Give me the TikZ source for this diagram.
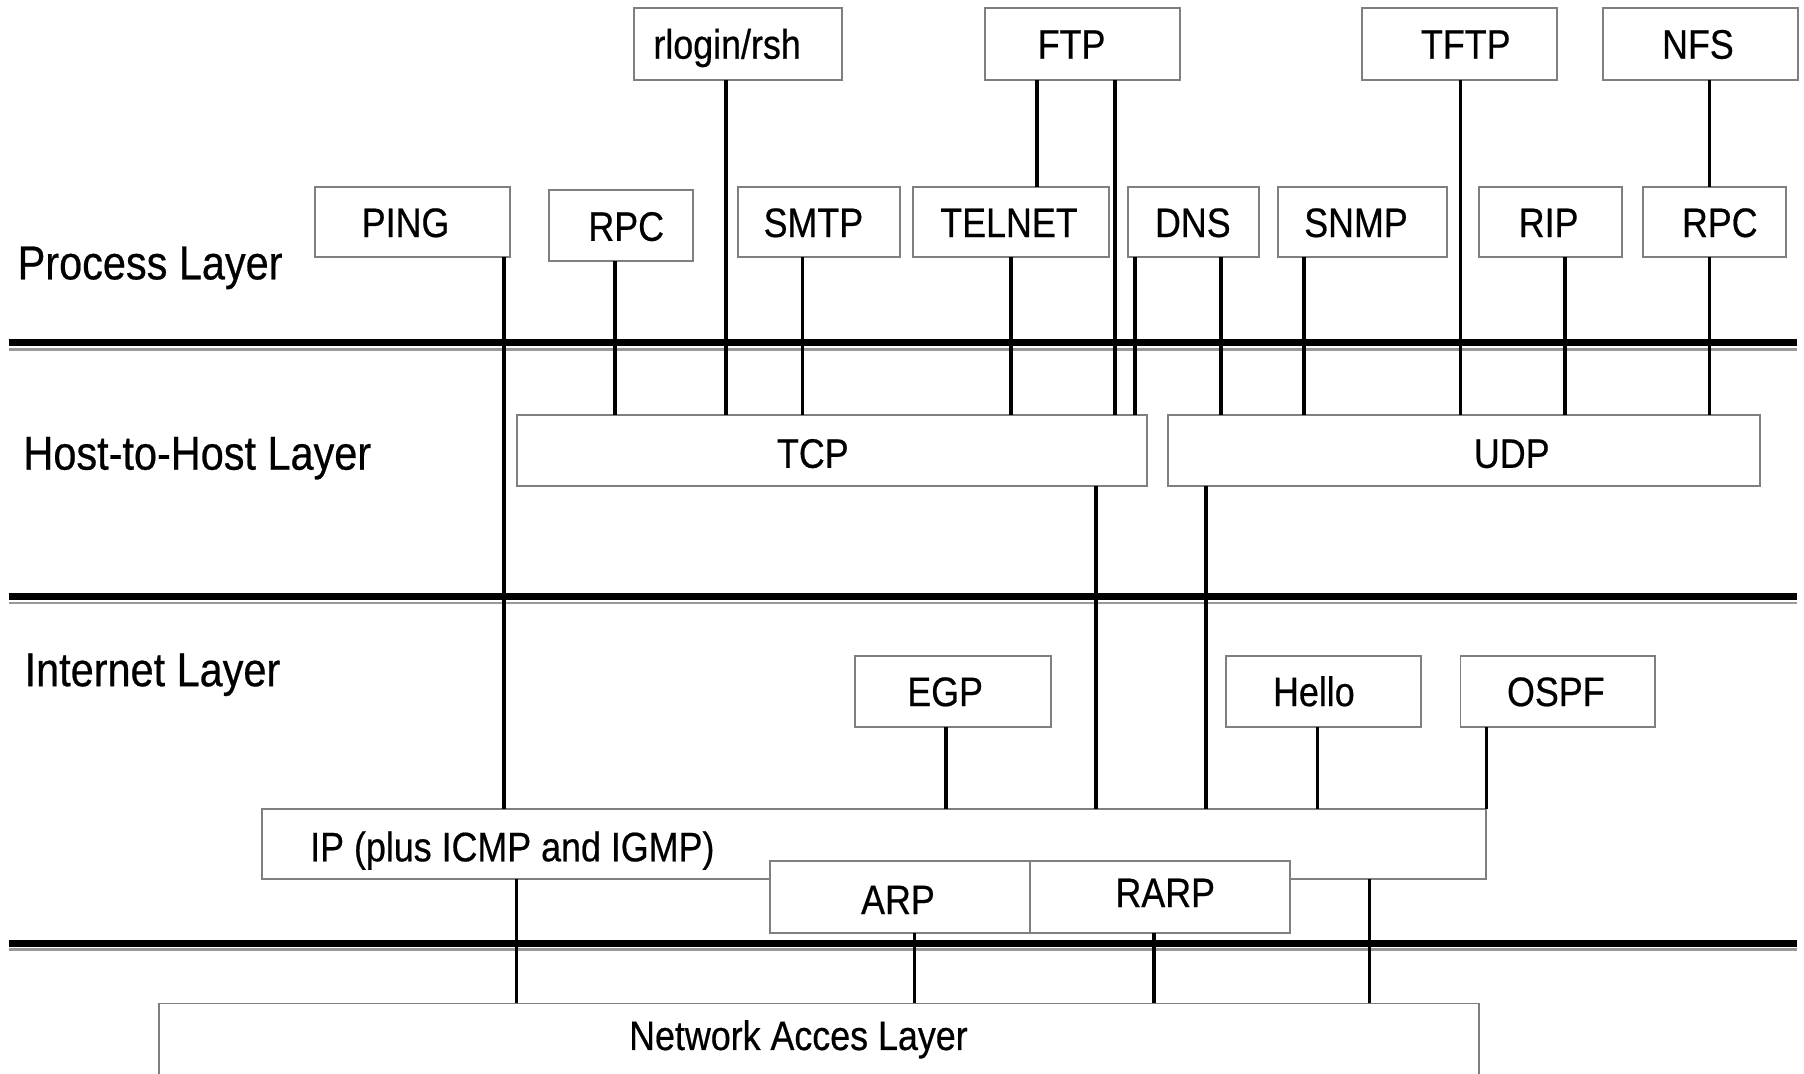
\documentclass[tikz,border=0pt]{standalone}
\usepackage{fontspec}
\setmainfont[FakeStretch=0.87,FakeBold=0.5]{Liberation Sans}
\usetikzlibrary{fit}
\definecolor{boxgray}{HTML}{7F7F7F}
\definecolor{sepgray}{HTML}{999999}
\begin{document}
\begin{tikzpicture}[x=0.5pt,y=-0.5pt,
  box/.style={draw=boxgray,line width=0.85pt,fill=white,inner sep=0pt,outer sep=0pt},
  lbl/.style={anchor=base,inner sep=0pt,font=\fontsize{17.9}{20}\selectfont},
  layer/.style={anchor=base west,inner sep=0pt,font=\fontsize{20.7}{24}\selectfont},
  conn/.style={line width=1.6pt,black},
  sepb/.style={line width=3pt,black},
  sepg/.style={line width=1.2pt,sepgray}]
\fill[white] (0,0) rectangle (1568,933);
\useasboundingbox (0,0) rectangle (1568,933);

% separators
\coordinate (s1l) at (7.5,298);   \coordinate (s1r) at (1562,298);
\coordinate (s2l) at (7.5,518.6); \coordinate (s2r) at (1562,518.6);
\coordinate (s3l) at (7.5,820);   \coordinate (s3r) at (1562,820);
\foreach \a/\b in {s1l/s1r,s2l/s2r,s3l/s3r}{
  \draw[sepb] (\a) -- (\b);
  \draw[sepg] ([yshift=-2.75pt]\a) -- ([yshift=-2.75pt]\b);
}

% layer labels
\node[layer] (lproc) at (15,242.8) {Process Layer};
\node[layer] (lhost) at (20,408.2) {Host-to-Host Layer};
\node[layer] (linet) at (21,596.4) {Internet Layer};

% top row boxes
\node[box,fit={(551,6.6)(732,69.4)}] (rlogin) {};
\node[box,fit={(856.4,6.6)(1025.8,69.4)}] (ftp) {};
\node[box,fit={(1183.6,6.6)(1353.5,69.4)}] (tftp) {};
\node[box,fit={(1393.6,6.6)(1562.5,69.4)}] (nfs) {};

% process row boxes
\node[box,fit={(273.9,162.4)(443,223.6)}] (ping) {};
\node[box,fit={(477.5,165.3)(602.2,226.7)}] (rpca) {};
\node[box,fit={(641.1,162.4)(782.5,223.6)}] (smtp) {};
\node[box,fit={(793.3,162.4)(964.2,223.6)}] (telnet) {};
\node[box,fit={(980.7,162.4)(1094.5,223.6)}] (dns) {};
\node[box,fit={(1111,162.4)(1257.8,223.6)}] (snmp) {};
\node[box,fit={(1285.9,162.4)(1410.1,223.6)}] (rip) {};
\node[box,fit={(1428.2,162.4)(1552.4,223.6)}] (rpcb) {};

% host-to-host
\node[box,fit={(449.5,360.3)(997.2,422.5)}] (tcp) {};
\node[box,fit={(1014.8,360.3)(1529.9,422.5)}] (udp) {};

% internet
\node[box,fit={(743.4,569.9)(913.5,632.2)}] (egp) {};
\node[box,fit={(1065.9,569.9)(1235.3,632.2)}] (hello) {};
\node[box,fit={(1269.4,569.9)(1438.8,632.2)}] (ospf) {};
\node[box,fit={(228,702.8)(1291.9,764.3)}] (ip) {};
\node[box,fit={(669.5,748)(895.5,810.7)}] (arp) {};
\node[box,fit={(895.5,748)(1121,810.7)}] (rarp) {};

% network access
\node[box,fit={(138.2,872.2)(1285.9,950)}] (na) {};

% connectors
\draw[conn] (438,0 |- ping.south) -- (438,0 |- ip.north);
\draw[conn] (534.8,0 |- rpca.south) -- (534.8,0 |- tcp.north);
\draw[conn] (631,0 |- rlogin.south) -- (631,0 |- tcp.north);
\draw[conn] (697.5,0 |- smtp.south) -- (697.5,0 |- tcp.north);
\draw[conn] (878.5,0 |- telnet.south) -- (878.5,0 |- tcp.north);
\draw[conn] (901.5,0 |- ftp.south) -- (901.5,0 |- telnet.north);
\draw[conn] (969.2,0 |- ftp.south) -- (969.2,0 |- tcp.north);
\draw[conn] (986.7,0 |- dns.south) -- (986.7,0 |- tcp.north);
\draw[conn] (1061.4,0 |- dns.south) -- (1061.4,0 |- udp.north);
\draw[conn] (1133.5,0 |- snmp.south) -- (1133.5,0 |- udp.north);
\draw[conn] (1269.4,0 |- tftp.south) -- (1269.4,0 |- udp.north);
\draw[conn] (1360,0 |- rip.south) -- (1360,0 |- udp.north);
\draw[conn] (1485.8,0 |- nfs.south) -- (1485.8,0 |- rpcb.north);
\draw[conn] (1485.8,0 |- rpcb.south) -- (1485.8,0 |- udp.north);
\draw[conn] (952.6,0 |- tcp.south) -- (952.6,0 |- ip.north);
\draw[conn] (1048.3,0 |- udp.south) -- (1048.3,0 |- ip.north);
\draw[conn] (822.3,0 |- egp.south) -- (822.3,0 |- ip.north);
\draw[conn] (1145.1,0 |- hello.south) -- (1145.1,0 |- ip.north);
\draw[conn] (ip.north east |- ospf.south) -- (ip.north east);
\draw[conn] (449,0 |- ip.south) -- (449,0 |- na.north);
\draw[conn] (794.8,0 |- arp.south) -- (794.8,0 |- na.north);
\draw[conn] (1003.2,0 |- rarp.south) -- (1003.2,0 |- na.north);
\draw[conn] (1190.2,0 |- ip.south) -- (1190.2,0 |- na.north);

% labels
\node[lbl] (trlogin) at (632,51) {rlogin/rsh};
\node[lbl] (tftp1) at (931.4,51) {FTP};
\node[lbl] (ttftp) at (1274,51) {TFTP};
\node[lbl] (tnfs) at (1475.8,51) {NFS};
\node[lbl] (tping) at (352.5,206) {PING};
\node[lbl] (trpca) at (544.3,209.3) {RPC};
\node[lbl] (tsmtp) at (707,206) {SMTP};
\node[lbl] (ttelnet) at (877,206) {TELNET};
\node[lbl] (tdns) at (1036.8,206) {DNS};
\node[lbl] (tsnmp) at (1178.6,206) {SNMP};
\node[lbl] (trip) at (1346,206) {RIP};
\node[lbl] (trpcb) at (1494.8,206) {RPC};
\node[lbl] (ttcp) at (706.5,406.6) {TCP};
\node[lbl] (tudp) at (1314,406.6) {UDP};
\node[lbl] (tegp) at (821.5,613.7) {EGP};
\node[lbl] (thello) at (1142,613.7) {Hello};
\node[lbl] (tospf) at (1352.3,613.7) {OSPF};
\node[lbl] (tip) at (445.3,748.6) {IP (plus ICMP and IGMP)};
\node[lbl] (tarp) at (780.5,794.5) {ARP};
\node[lbl] (trarp) at (1012.8,788.4) {RARP};
\node[lbl] (tna) at (694,912.6) {Network Acces Layer};
\end{tikzpicture}
\end{document}
